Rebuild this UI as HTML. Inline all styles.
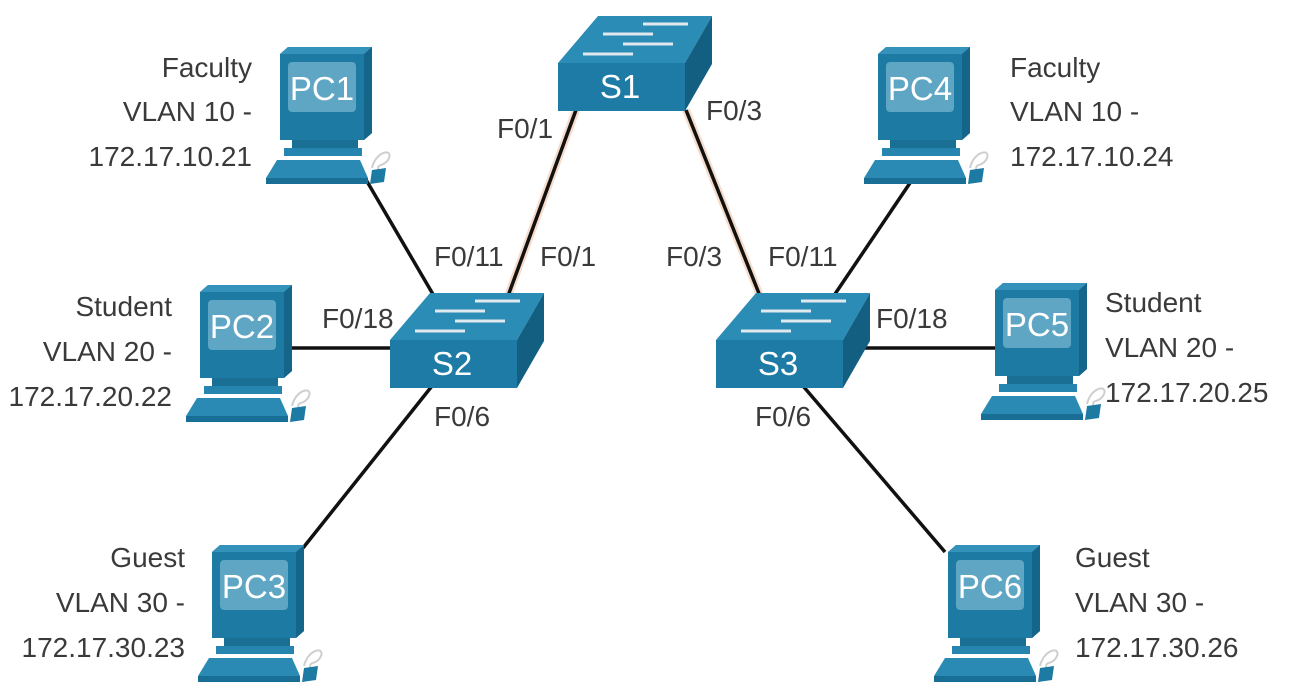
<!DOCTYPE html>
<html><head><meta charset="utf-8"><style>
html,body{margin:0;padding:0;background:#fff;}
svg{display:block}
text{font-family:"Liberation Sans",sans-serif;}
.l{font-size:28px;fill:#3a3a3a;}
</style></head><body>
<svg width="1292" height="696" viewBox="0 0 1292 696" xmlns="http://www.w3.org/2000/svg">
<defs>
<g id="pc">
  <polygon points="280,54 288,47 372,47 372,133 364,140 280,140" fill="#1d7aa3"/>
  <polygon points="364,54 372,47 372,133 364,140" fill="#15658a"/>
  <polygon points="280,54 288,47 372,47 364,54" fill="#3592bb"/>
  <rect x="288" y="62" width="68" height="50" rx="4" fill="#5fa5c4"/>
  <rect x="292" y="140" width="66" height="8" fill="#1a6f95"/>
  <rect x="284" y="148" width="78" height="8" fill="#2585ae"/>
  <polygon points="277,160 360,160 368,178 266,178" fill="#2a8ab4"/>
  <polygon points="266,178 368,178 368,184 266,184" fill="#186e95"/>
  <path d="M372,168 C376,150 395,148 388,160 C382,168 378,162 378,170" stroke="#cfcfcf" stroke-width="2" fill="none"/>
  <polygon points="372,170 386,168 384,182 370,184" fill="#1d7aa3"/>
</g>
<g id="sw">
  <polygon points="0,47 40,0 154,0 127,47" fill="#2b8cb6"/>
  <polygon points="127,47 154,0 154,48 127,95" fill="#135f82"/>
  <rect x="0" y="47" width="127" height="48" fill="#1e7ba5"/>
  <g stroke="#dfe9ee" stroke-width="3">
   <line x1="85" y1="8" x2="130" y2="8"/><line x1="45" y1="18" x2="95" y2="18"/>
   <line x1="65" y1="28" x2="115" y2="28"/><line x1="25" y1="38" x2="75" y2="38"/>
  </g>
</g>
</defs>
<g stroke="#111" stroke-width="3.5" fill="none">
 <line x1="365" y1="178" x2="434" y2="296"/>
 <line x1="290" y1="348" x2="392" y2="348"/>
 <line x1="303" y1="548" x2="432" y2="386"/>
 <line x1="862" y1="348" x2="1000" y2="348"/>
 <line x1="912" y1="180" x2="833" y2="297"/>
 <line x1="945" y1="552" x2="803" y2="386"/>
</g>
<g fill="none">
 <line x1="576" y1="110" x2="508" y2="296" stroke="#f7dccb" stroke-width="8"/>
 <line x1="686" y1="110" x2="760" y2="296" stroke="#f7dccb" stroke-width="8"/>
 <line x1="576" y1="110" x2="508" y2="296" stroke="#111" stroke-width="3.5"/>
 <line x1="686" y1="110" x2="760" y2="296" stroke="#111" stroke-width="3.5"/>
</g>
<use href="#sw" transform="translate(558,16)"/>
<use href="#sw" transform="translate(390,293)"/>
<use href="#sw" transform="translate(716,293)"/>
<text x="620" y="98" font-size="33" fill="#fff" text-anchor="middle">S1</text>
<text x="452" y="375" font-size="33" fill="#fff" text-anchor="middle">S2</text>
<text x="778" y="375" font-size="33" fill="#fff" text-anchor="middle">S3</text>
<use href="#pc"/>
<use href="#pc" transform="translate(-80,238)"/>
<use href="#pc" transform="translate(-68,498)"/>
<use href="#pc" transform="translate(598,0)"/>
<use href="#pc" transform="translate(715,236)"/>
<use href="#pc" transform="translate(668,498)"/>
<g font-size="33" fill="#fff" text-anchor="middle">
 <text x="322" y="100">PC1</text><text x="242" y="338">PC2</text><text x="254" y="598">PC3</text>
 <text x="920" y="100">PC4</text><text x="1037" y="336">PC5</text><text x="990" y="598">PC6</text>
</g>
<g class="l" text-anchor="end">
 <text x="252" y="77">Faculty</text><text x="252" y="121">VLAN 10 -</text><text x="252" y="166">172.17.10.21</text>
 <text x="172" y="316">Student</text><text x="172" y="361">VLAN 20 -</text><text x="172" y="406">172.17.20.22</text>
 <text x="185" y="567">Guest</text><text x="185" y="612">VLAN 30 -</text><text x="185" y="657">172.17.30.23</text>
</g>
<g class="l">
 <text x="1010" y="77">Faculty</text><text x="1010" y="121">VLAN 10 -</text><text x="1010" y="166">172.17.10.24</text>
 <text x="1105" y="312">Student</text><text x="1105" y="357">VLAN 20 -</text><text x="1105" y="402">172.17.20.25</text>
 <text x="1075" y="567">Guest</text><text x="1075" y="612">VLAN 30 -</text><text x="1075" y="657">172.17.30.26</text>
 <text x="497" y="138">F0/1</text><text x="706" y="120">F0/3</text>
 <text x="434" y="266">F0/11</text><text x="540" y="266">F0/1</text>
 <text x="666" y="266">F0/3</text><text x="768" y="266">F0/11</text>
 <text x="322" y="328">F0/18</text><text x="876" y="328">F0/18</text>
 <text x="434" y="426">F0/6</text><text x="755" y="426">F0/6</text>
</g>
</svg>
</body></html>
